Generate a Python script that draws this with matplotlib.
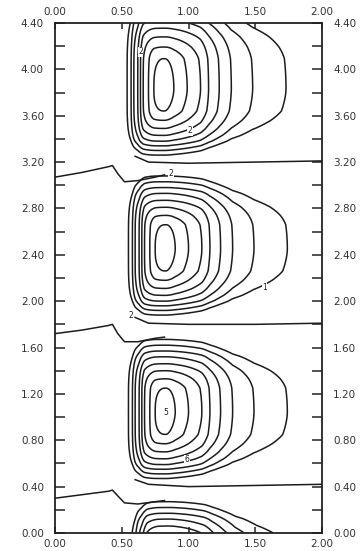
import numpy as np
import matplotlib
matplotlib.use('Agg')
import matplotlib.pyplot as plt

# centres of the four cells and stretch of their upper half
cell_x = [0.82, 0.83, 0.83, 0.85]
cell_y = [3.83, 2.45, 1.04, -0.36]
cell_top = [1.25, 1.0, 1.0, 1.0]

# distance from a cell centre to each contour, inner -> outer
d_left = [0.08, 0.12, 0.16, 0.18, 0.20, 0.23, 0.25, 0.28]
d_right = [0.07, 0.17, 0.27, 0.33, 0.41, 0.50, 0.66, 0.91]
d_top = [0.21, 0.29, 0.36, 0.42, 0.48, 0.53, 0.58, 0.63]
d_bot = [0.19, 0.27, 0.34, 0.40, 0.45, 0.49, 0.53, 0.57]
levels = [1, 2, 3, 4, 5, 6, 7, 8]

# lines between the cells
left_x = [0.0, 0.20, 0.40, 0.43, 0.47, 0.52, 0.62, 0.75, 0.82]
left_y1 = [3.07, 3.11, 3.16, 3.17, 3.10, 3.03, 3.04, 3.07, 3.09]
left_y2 = [1.72, 1.75, 1.79, 1.80, 1.72, 1.65, 1.65, 1.68, 1.69]
left_y3 = [0.30, 0.33, 0.36, 0.37, 0.32, 0.26, 0.25, 0.27, 0.28]
right_x = [0.60, 0.70, 1.00, 1.50, 2.00]
right_y1 = [3.25, 3.20, 3.19, 3.20, 3.21]
right_y2 = [1.86, 1.81, 1.80, 1.80, 1.81]
right_y3 = [0.46, 0.42, 0.40, 0.41, 0.42]

# contour labels
lab_x = [0.87, 0.57, 1.57, 1.01, 0.83, 0.99, 0.64]
lab_y = [3.10, 1.88, 2.12, 3.47, 1.04, 0.63, 4.15]
lab_s = ['2', '2', '1', '2', '5', '6', '2']

xt = [0.0, 0.5, 1.0, 1.5, 2.0]
yt = np.arange(0, 4.41, 0.4)


def to_index(d, dist):
    # distance -> contour index, linear past the outermost one
    xp = [0] + dist + [dist[-1] + 1.0]
    fp = [0] + levels + [levels[-1] + 1.0 / (dist[-1] - dist[-2])]
    return np.interp(d, xp, fp)


x = np.linspace(0, 2, 500)
y = np.linspace(0, 4.4, 1100)
X, Y = np.meshgrid(x, y)
F = np.full(X.shape, -50.0)
for cx, cy, ct in zip(cell_x, cell_y, cell_top):
    dx = X - cx
    dy = Y - cy
    u = np.where(dx < 0, to_index(-dx, d_left), to_index(dx, d_right))
    v = np.where(dy > 0, to_index(dy / ct, d_top), to_index(-dy, d_bot))
    q = np.where(dx < 0, 2.6, np.where(dy > 0, 2.1, 1.7))
    s = (u ** q + v ** q) ** (1.0 / q)
    F = np.maximum(F, 9 - s)

fig = plt.figure(figsize=(3.62, 5.51), dpi=100)
ax = fig.add_axes([0.152, 0.0327, 0.7376, 0.9256])
lc = '#1c1c1c'
ax.contour(X, Y, F, levels=levels, colors=lc, linewidths=1.1)
for ly in [left_y1, left_y2, left_y3]:
    ax.plot(left_x, ly, color=lc, lw=1.1)
for ry in [right_y1, right_y2, right_y3]:
    ax.plot(right_x, ry, color=lc, lw=1.1)
for lx, ly, t in zip(lab_x, lab_y, lab_s):
    ax.text(lx, ly, t, fontsize=5.5, ha='center', va='center', color=lc,
            bbox=dict(facecolor='white', edgecolor='none', pad=0.3))

ax.set_xlim(0, 2)
ax.set_ylim(0, 4.4)
ax.set_xticks(xt)
ax.set_xticklabels(['%.2f' % v for v in xt])
ax.set_yticks(yt)
ax.set_yticklabels(['%.2f' % v for v in yt])
ax.set_yticks(np.arange(0.2, 4.4, 0.4), minor=True)
for sp in ax.spines.values():
    sp.set_linewidth(1.3)
    sp.set_color('#222222')
ax.tick_params(axis='x', which='both', direction='in', length=4, width=1.2,
               top=True, labeltop=True, labelsize=7.5, colors='#333333')
ax.tick_params(axis='y', which='both', direction='in', length=7, width=1.2,
               right=True, labelright=True, labelsize=7.5, colors='#333333')
ax.tick_params(axis='x', which='major', pad=4)
ax.tick_params(axis='y', which='major', pad=8)

fig.savefig('out.png', dpi=100)
